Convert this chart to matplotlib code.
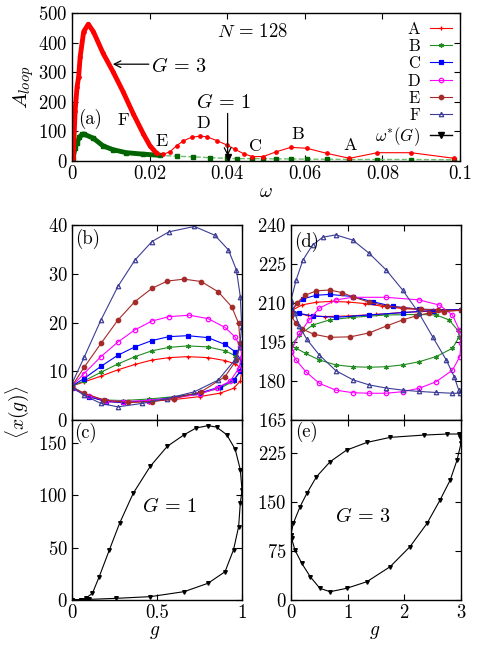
import numpy as np
import matplotlib
matplotlib.use('Agg')
import matplotlib.pyplot as plt

plt.rcParams['font.family'] = 'serif'
plt.rcParams['font.serif'] = ['cmr10', 'DejaVu Serif']
plt.rcParams['mathtext.fontset'] = 'cm'
plt.rcParams['axes.formatter.use_mathtext'] = True
plt.rcParams['axes.unicode_minus'] = False
plt.rcParams['font.size'] = 13.5

# panel (a): A_loop vs omega, N = 128
w_G3 = [0, 0.0003, 0.0008, 0.0013, 0.0017, 0.0021, 0.003, 0.0042, 0.0055, 0.008, 0.0106,
        0.0132, 0.0158, 0.0184, 0.0201, 0.0218, 0.0235, 0.0253, 0.027, 0.0287, 0.0308,
        0.033, 0.0347, 0.0373, 0.0399, 0.0421, 0.0443, 0.0465, 0.0493, 0.0526, 0.0564,
        0.0605, 0.0656, 0.0715, 0.0787, 0.0874, 0.0985]
A_G3 = [0, 11, 170, 250, 284, 352, 437, 462, 437, 364, 301, 233, 159, 91, 51, 26, 22, 32,
        52, 68, 80, 84, 82, 69, 54, 39, 24, 15, 15, 31, 46, 43, 26, 9, 28, 28, 9]
w_G1 = [0, 0.0003, 0.0008, 0.0013, 0.0019, 0.0026, 0.003, 0.0055, 0.008, 0.0106, 0.014,
        0.0184, 0.0227, 0.027, 0.0312, 0.0356, 0.04, 0.0425, 0.0465, 0.0493, 0.0526,
        0.0564, 0.0605, 0.0656, 0.0715, 0.0787, 0.0874, 0.0985]
A_G1 = [0, 11, 45, 62, 80, 90, 91, 77, 51, 38, 28, 23, 19, 16, 14, 11, 9, 8, 8, 8, 7, 7,
        6, 6, 5, 5, 5, 4]
w_star = [0.0401]
A_star = [12]

# panel (b): loops at G = 1
gb_F = [0, 0.073, 0.17, 0.27, 0.37, 0.47, 0.57, 0.72, 0.84, 0.92, 0.967, 0.99, 0.998,
        0.986, 0.957, 0.86, 0.72, 0.56, 0.41, 0.27, 0.17, 0.07, 0]
xb_F = [7.5, 13, 20.5, 27.4, 32.8, 36.6, 38.6, 39.7, 37.9, 34.9, 30.8, 25.3, 19.1, 15,
        12.3, 8.2, 5.8, 4.4, 3.4, 2.7, 3.4, 5.1, 6.8]
gb_E = [0, 0.073, 0.17, 0.27, 0.37, 0.47, 0.56, 0.66, 0.76, 0.86, 0.94, 0.98, 0.99, 0.967,
        0.9, 0.76, 0.6, 0.47, 0.33, 0.19, 0.07, 0]
xb_E = [7, 10.9, 15.7, 20.5, 24.3, 27, 28.5, 28.9, 28.4, 26.3, 23.2, 19.8, 15.7, 12.3,
        8.9, 5.8, 4.4, 3.8, 3.6, 4.1, 5.5, 6.8]
gb_D = [0, 0.07, 0.17, 0.27, 0.37, 0.47, 0.57, 0.69, 0.8, 0.9, 0.96, 0.99, 1.0, 0.98,
        0.93, 0.85, 0.75, 0.6, 0.45, 0.3, 0.2, 0.1, 0]
xb_D = [7, 9.5, 13, 16, 18.5, 20.3, 21.2, 21.5, 20.8, 19, 17, 15, 13, 10.5, 8, 6.5, 5.3,
        4.5, 4, 3.8, 4, 5, 6.5]
gb_ABC = [0, 0.07, 0.17, 0.27, 0.37, 0.47, 0.57, 0.68, 0.8, 0.9, 0.96, 1.0, 0.99, 0.95,
          0.87, 0.75, 0.6, 0.45, 0.3, 0.2, 0.1, 0]
xb_C = [7, 8.5, 11, 13.3, 15, 16.3, 17.1, 17.3, 16.9, 15.5, 14, 12, 10, 8.2, 6.8, 5.5,
        4.6, 4, 3.6, 3.8, 4.8, 6.5]
xb_B = [7, 8, 9.8, 11.5, 13, 14.2, 14.9, 15.2, 15, 14.2, 13.2, 12, 10, 8, 6.5, 5.5, 4.8,
        4.3, 4, 4.1, 4.8, 6.8]
xb_A = [7, 7.8, 9, 10.3, 11.4, 12.3, 12.8, 13, 12.8, 12.2, 11.5, 10.5, 8, 6.5, 5.5, 4.8,
        4.2, 3.8, 3.6, 3.8, 4.8, 6.8]

# panel (d): loops at G = 3
gd_F = [0, 0.09, 0.21, 0.38, 0.56, 0.79, 1.09, 1.38, 1.68, 1.97, 2.26, 2.5, 2.74, 2.88,
        2.96, 2.99, 2.85, 2.56, 2.26, 1.97, 1.68, 1.38, 1.09, 0.79, 0.5, 0.28, 0.15, 0.07, 0]
xd_F = [211, 218.8, 226.5, 232.3, 235.3, 236.2, 234.2, 229.1, 222.7, 215, 206, 197,
        188.1, 181.7, 176.5, 175.3, 175.3, 175.6, 176, 176.5, 177.3, 178.5, 180.5, 184,
        190, 196, 201, 206, 210.5]
gd_E = [0, 0.1, 0.25, 0.45, 0.68, 0.9, 1.1, 1.38, 1.7, 1.97, 2.3, 2.6, 3, 2.7, 2.44, 2.2,
        1.97, 1.7, 1.38, 1.05, 0.68, 0.4, 0.2, 0.08, 0]
xd_E = [206, 210, 213, 214.7, 215, 214, 212.3, 210.3, 208.8, 208.2, 207.6, 207.3, 207.2,
        206.7, 206.2, 205, 203.5, 201.3, 198.5, 197, 196.8, 198, 200, 202.5, 205]
gd_D = [0, 0.15, 0.32, 0.5, 0.79, 1.09, 1.68, 2.26, 2.62, 2.85, 2.97, 3.0, 2.98, 2.85,
        2.56, 2.26, 1.97, 1.68, 1.38, 1.09, 0.79, 0.5, 0.26, 0.09, 0]
xd_D = [191.5, 198.3, 203.5, 208, 211.2, 212.2, 212.2, 211.2, 209.2, 205.4, 199.6, 194.5,
        189.4, 184.2, 179.7, 177.2, 175.9, 175.3, 175.3, 175.5, 176.5, 179.1, 183.6,
        188.1, 191.3]
gd_C = [0, 0.21, 0.45, 0.68, 1.09, 1.44, 1.8, 2.26, 3, 2.5, 1.97, 1.38, 0.79, 0.38, 0.15, 0]
xd_C = [207.3, 211.6, 213, 213.3, 212.5, 210.5, 208.7, 207.6, 207.3, 207.1, 206.3, 205.4,
        204.5, 205, 206, 207]
gd_B = [0, 0.15, 0.38, 0.68, 1.09, 1.68, 2.26, 2.56, 2.79, 2.94, 2.97, 2.85, 2.56, 2.26,
        1.97, 1.68, 1.38, 1.09, 0.79, 0.5, 0.26, 0.09, 0]
xd_B = [193.8, 197.7, 201.5, 203.5, 204.5, 205.4, 205.6, 205.4, 203.5, 199.6, 197.1,
        192.6, 189.4, 187.4, 186.2, 185.5, 185.3, 185.5, 186.2, 188.1, 190.6, 192.6, 193.5]
gd_A = [0, 0.2, 0.45, 0.7, 1.0, 1.3, 1.6, 2.0, 2.5, 3, 2.5, 2.0, 1.5, 1.0, 0.6, 0.3, 0.1, 0]
xd_A = [207, 209.3, 210.3, 210.6, 210.4, 209.8, 208.8, 207.8, 207.3, 207.2, 206.9, 206.4,
        205.6, 205, 204.8, 205.2, 206, 206.8]

# panel (c): G = 1, omega*
gc = [0, 0.05, 0.1, 0.26, 0.46, 0.66, 0.8, 0.9, 0.95, 0.98, 0.99, 1.0, 0.99, 0.96, 0.91,
      0.85, 0.8, 0.73, 0.66, 0.56, 0.46, 0.36, 0.28, 0.22, 0.16, 0.12, 0.08, 0.05, 0]
xc = [0, 0.2, 0.6, 1.6, 3.2, 8, 16, 27, 48, 70, 92.6, 105, 124.5, 144, 158, 165.3, 166.6,
      164.4, 158, 146.8, 127.7, 102, 73.4, 48, 22.3, 6.4, 1.6, 0.3, 0]

# panel (e): G = 3, omega*
ge = [0, 0.04, 0.16, 0.28, 0.45, 0.69, 0.98, 1.34, 1.75, 2.34, 2.75, 2.96, 2.99, 3.0,
      2.93, 2.81, 2.63, 2.4, 2.1, 1.75, 1.34, 0.98, 0.69, 0.51, 0.34, 0.19, 0.07, 0.01, 0]
xe = [100, 117, 142.6, 163, 188.4, 211.3, 229, 240.8, 248.5, 252, 253.6, 253.6, 249.5,
      239.3, 213.8, 183.3, 152.7, 117, 81.5, 50.9, 28, 17.8, 12.7, 17.8, 35.6, 56, 76.4,
      94.2, 100]

labels = ['A', 'B', 'C', 'D', 'E', 'F']
colors = ['#ff0000', '#228b22', '#0000ff', '#ff00ff', '#a52a2a', '#3c3c96']
markers = ['+', (6, 2, 0), 's', 'o', 'o', '^']
mfcs = [None, None, None, 'none', None, 'none']


def style(ax):
    ax.tick_params(direction='in', top=True, right=True, length=4, width=0.8, pad=3)
    for s in ax.spines.values():
        s.set_linewidth(1.0)


fig = plt.figure(figsize=(4.85, 6.46), dpi=100)
ax_a = fig.add_axes([0.1485, 0.7508, 0.8, 0.2291])
ax_b = fig.add_axes([0.1485, 0.3498, 0.3505, 0.3019])
ax_c = fig.add_axes([0.1485, 0.0712, 0.3505, 0.2786])
ax_d = fig.add_axes([0.6, 0.3498, 0.3505, 0.3019])
ax_e = fig.add_axes([0.6, 0.0712, 0.3505, 0.2786])

# (a)
w3 = np.array(w_G3); a3 = np.array(A_G3)
w1 = np.array(w_G1); a1 = np.array(A_G1)
ax_a.plot(w1, a1, color='#6fbf6f', ls='--', lw=1.0)
ax_a.plot(w1, a1, ls='none', marker='s', ms=2.6, color='#006400')
ax_a.plot(w1[w1 < 0.026], a1[w1 < 0.026], color='#006400', lw=3.5, solid_capstyle='round')
ax_a.plot(w3, a3, color='#ff0000', lw=0.8, marker='o', ms=2.4)
ax_a.plot(w3[w3 < 0.0225], a3[w3 < 0.0225], color='#ff0000', lw=3.5, solid_capstyle='round')
star, = ax_a.plot(w_star, A_star, ls='-', color='black', marker='v', ms=4, lw=1)
ax_a.annotate('', xy=(0.0401, 8), xytext=(0.0401, 170),
              arrowprops=dict(arrowstyle='->', color='black', lw=0.9, mutation_scale=12))
ax_a.annotate('', xy=(0.0098, 327), xytext=(0.0205, 327),
              arrowprops=dict(arrowstyle='->', color='black', lw=0.9, mutation_scale=12))
ax_a.text(0.0276, 318, r'$G\,=\,3$', ha='center', va='center', fontsize=14.5)
ax_a.text(0.0390, 197, r'$G\,=\,1$', ha='center', va='center', fontsize=14.5)
ax_a.text(0.0466, 436, r'$N\,=\,128$', ha='center', va='center', fontsize=13.5)
ax_a.text(0.0046, 143, '(a)', ha='center', va='center', fontsize=13.5)
for t, wx, ay in zip(['F', 'E', 'D', 'C', 'B', 'A'],
                     [0.0132, 0.0231, 0.0338, 0.0472, 0.0581, 0.0716],
                     [137, 65, 128, 51, 90, 52]):
    ax_a.text(wx, ay, t, ha='center', va='center', fontsize=13)
ax_a.set_xlim(0, 0.1)
ax_a.set_ylim(0, 500)
ax_a.set_xticks([0, 0.02, 0.04, 0.06, 0.08, 0.1])
ax_a.set_xticklabels(['0', '0.02', '0.04', '0.06', '0.08', '0.1'])
ax_a.set_yticks([0, 100, 200, 300, 400, 500])
ax_a.set_xlabel(r'$\omega$', fontsize=14, labelpad=0)
ax_a.set_ylabel(r'$A_{loop}$', fontsize=15, labelpad=2)
style(ax_a)

# (b)
b_g = [gb_ABC, gb_ABC, gb_ABC, gb_D, gb_E, gb_F]
b_x = [xb_A, xb_B, xb_C, xb_D, xb_E, xb_F]
handles = []
for i in range(6):
    ln, = ax_b.plot(b_g[i], b_x[i], color=colors[i], lw=0.8, marker=markers[i], ms=3.2,
                    mfc=mfcs[i] if mfcs[i] else colors[i], mew=0.9)
    handles.append(ln)
ax_b.set_xlim(0, 1)
ax_b.set_ylim(0, 40)
ax_b.set_yticks([0, 10, 20, 30, 40])
ax_b.set_xticks([0, 0.5, 1])
ax_b.set_xticklabels([])
ax_b.text(0.094, 0.93, '(b)', transform=ax_b.transAxes, ha='center', va='center', fontsize=13.5)
style(ax_b)

# (d)
d_g = [gd_A, gd_B, gd_C, gd_D, gd_E, gd_F]
d_x = [xd_A, xd_B, xd_C, xd_D, xd_E, xd_F]
for i in range(6):
    ax_d.plot(d_g[i], d_x[i], color=colors[i], lw=0.8, marker=markers[i], ms=3.2,
              mfc=mfcs[i] if mfcs[i] else colors[i], mew=0.9)
ax_d.set_xlim(0, 3)
ax_d.set_ylim(165, 240)
ax_d.set_yticks([165, 180, 195, 210, 225, 240])
ax_d.set_xticks([0, 1, 2, 3])
ax_d.set_xticklabels([])
ax_d.text(0.092, 0.914, '(d)', transform=ax_d.transAxes, ha='center', va='center', fontsize=13.5)
style(ax_d)

# (c)
ax_c.plot(gc, xc, color='black', lw=0.8, marker='v', ms=2.6)
ax_c.set_xlim(0, 1)
ax_c.set_ylim(0, 172)
ax_c.set_yticks([0, 50, 100, 150])
ax_c.set_xticks([0, 0.5, 1])
ax_c.set_xticklabels(['0', '0.5', '1'])
ax_c.text(0.576, 89, r'$G\,=\,1$', ha='center', va='center', fontsize=14.5)
ax_c.text(0.077, 0.93, '(c)', transform=ax_c.transAxes, ha='center', va='center', fontsize=13.5)
style(ax_c)

# (e)
ax_e.plot(ge, xe, color='black', lw=0.8, marker='v', ms=2.6)
ax_e.set_xlim(0, 3)
ax_e.set_ylim(0, 275)
ax_e.set_yticks([0, 75, 150, 225])
ax_e.set_xticks([0, 1, 2, 3])
ax_e.text(1.276, 128, r'$G\,=\,3$', ha='center', va='center', fontsize=14.5)
ax_e.text(0.092, 0.935, '(e)', transform=ax_e.transAxes, ha='center', va='center', fontsize=13.5)
style(ax_e)

# g labels sit just under the tick labels, as in the original
fig.text(155 / 485, 1 - 632 / 646, r'$g$', ha='center', va='center', fontsize=14)
fig.text(375 / 485, 1 - 632 / 646, r'$g$', ha='center', va='center', fontsize=14)
fig.text(17 / 485, 1 - 412 / 646, r'$\langle x(g)\rangle$', rotation=90,
         ha='center', va='center', fontsize=14)

ax_a.legend(handles + [star], labels + [r'$\omega^{*}(G)$'], loc='upper right',
            bbox_to_anchor=(1.0, 1.0), frameon=False, markerfirst=False,
            handlelength=1.3, handletextpad=0.6, labelspacing=0.12, borderaxespad=0.2,
            borderpad=0.3, fontsize=12)

fig.savefig('out.png', dpi=100)
